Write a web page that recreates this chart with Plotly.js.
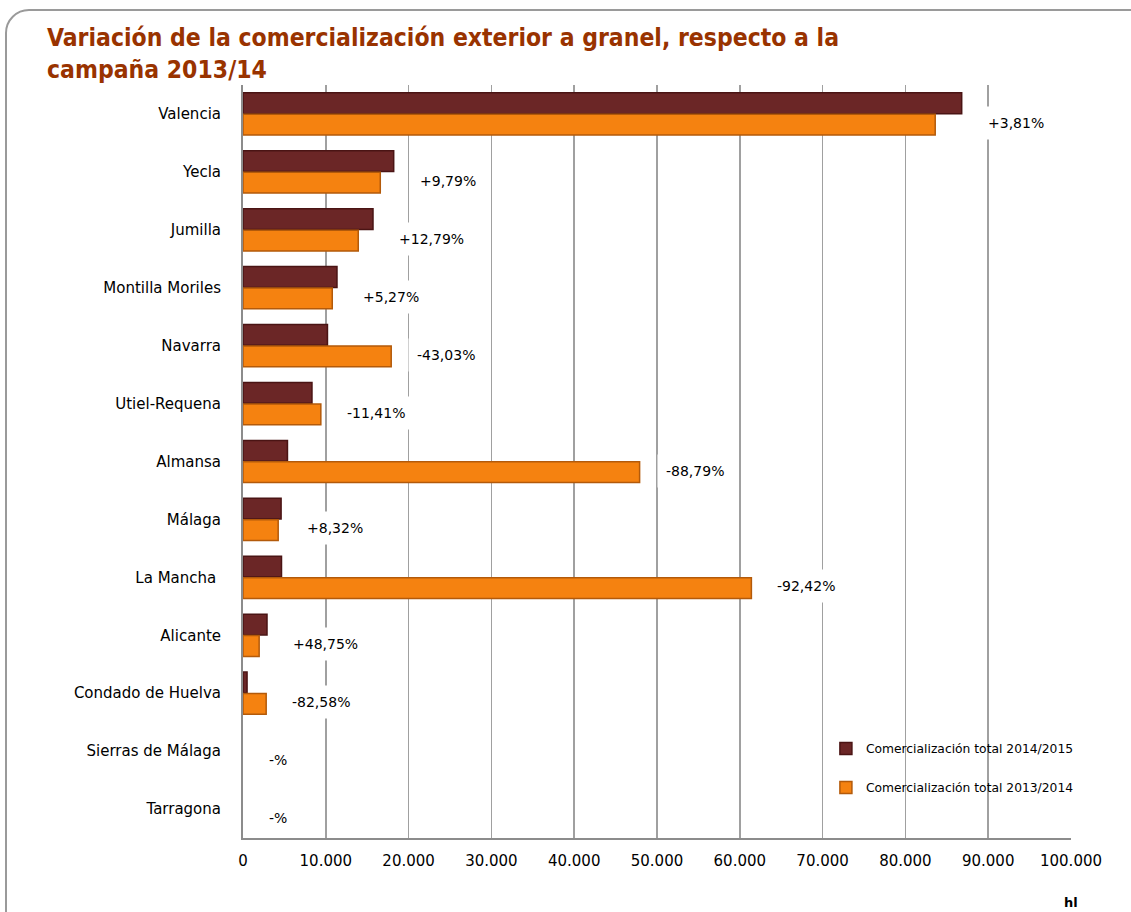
<!DOCTYPE html>
<html>
<head>
<meta charset="utf-8">
<script src="https://cdn.plot.ly/plotly-3.0.1.min.js"></script>
<style>
  html, body { margin: 0; padding: 0; background: #ffffff; }
  #frame { position: absolute; left: 5px; top: 9px; width: 1200px; height: 1000px;
           border: 2px solid #9a9a9a; border-radius: 24px; box-sizing: border-box; }
  #chart { position: absolute; left: 0; top: 0; width: 1131px; height: 912px; }
</style>
</head>
<body>
<div id="frame"></div>
<div id="chart"></div>
<script>
// Categories (top to bottom)
const categories = ["Valencia", "Yecla", "Jumilla", "Montilla Moriles", "Navarra",
  "Utiel-Requena", "Almansa", "Málaga", "La Mancha ", "Alicante",
  "Condado de Huelva", "Sierras de Málaga", "Tarragona"];

// Comercialización total 2014/2015 (hl)
const total2014_15 = [86800, 18200, 15700, 11350, 10200, 8330, 5370, 4600, 4650, 2900, 490, 0, 0];
// Comercialización total 2013/2014 (hl)
const total2013_14 = [83600, 16580, 13920, 10780, 17900, 9400, 47900, 4250, 61400, 1950, 2800, 0, 0];
// Variation labels
const variationLabels = ["+3,81%", "+9,79%", "+12,79%", "+5,27%", "-43,03%", "-11,41%",
  "-88,79%", "+8,32%", "-92,42%", "+48,75%", "-82,58%", "-%", "-%"];

const seriesNames = ["Comercialización total 2014/2015", "Comercialización total 2013/2014"];
const tickValues = [0, 10000, 20000, 30000, 40000, 50000, 60000, 70000, 80000, 90000, 100000];

const FONT = "DejaVu Sans, Verdana, sans-serif";

const traces = [
  {
    type: "bar", orientation: "h", name: seriesNames[0],
    y: categories, x: total2014_15, legendgroup: "a",
    marker: { color: "#6b2626", line: { color: "#4a1414", width: total2014_15.map(v => v > 0 ? 1.5 : 0) } },
    hoverinfo: "x+y"
  },
  {
    type: "bar", orientation: "h", name: seriesNames[1],
    y: categories, x: total2013_14, legendgroup: "b",
    marker: { color: "#f58210", line: { color: "#b35a0a", width: total2013_14.map(v => v > 0 ? 1.5 : 0) } },
    hoverinfo: "x+y"
  }
];

const annotations = categories.map((c, i) => ({
  x: Math.max(total2014_15[i], total2013_14[i]),
  y: c, xref: "x", yref: "y",
  text: variationLabels[i], showarrow: false,
  xanchor: "left", yanchor: "middle", xshift: 17, yshift: -9,
  bgcolor: "#ffffff", borderpad: 8,
  font: { family: FONT, size: 14, color: "#000000" }
}));
annotations.push({
  xref: "paper", yref: "paper", x: 1.0, y: -0.085, xanchor: "center", yanchor: "middle",
  text: "<b>hl</b>", showarrow: false, font: { family: FONT, size: 13, color: "#000" }
});

const layout = {
  width: 1131, height: 912,
  paper_bgcolor: "rgba(0,0,0,0)", plot_bgcolor: "rgba(0,0,0,0)",
  separators: ",.",
  margin: { l: 243, r: 60, t: 85, b: 74 },
  title: {
    text: "Variación de la comercialización exterior a granel, respecto a la<br>campaña 2013/14",
    xref: "container", yref: "container", x: 47 / 1131, y: 1 - 46 / 912,
    xanchor: "left", yanchor: "top",
    font: { family: "DejaVu Sans Condensed, DejaVu Sans, sans-serif", size: 24.5, color: "#993300", weight: "bold" }
  },
  font: { family: FONT, size: 15, color: "#000" },
  barmode: "group", bargap: 0.26, bargroupgap: 0.03,
  xaxis: {
    range: [0, 100000], tickvals: tickValues, tickformat: ",d",
    showgrid: true, gridcolor: "#a0a0a0", gridwidth: 1.5,
    showline: true, linecolor: "#8c8c8c", linewidth: 2, mirror: false,
    ticks: "", ticklabelstandoff: 8, zeroline: false,
    tickfont: { family: FONT, size: 15, color: "#000" }
  },
  yaxis: {
    type: "category", autorange: "reversed",
    showgrid: false, showline: true, linecolor: "#8c8c8c", linewidth: 2,
    ticks: "", ticklabelstandoff: 17,
    tickfont: { family: FONT, size: 15, color: "#000" }
  },
  showlegend: true,
  legend: {
    x: 0.704, y: 0.138, xanchor: "left", yanchor: "top",
    bgcolor: "rgba(255,255,255,0)", traceorder: "grouped", tracegroupgap: 20,
    font: { family: FONT, size: 12.3, color: "#000" }, itemwidth: 30
  },
  annotations: annotations
};

Plotly.newPlot("chart", traces, layout, { displayModeBar: false, staticPlot: true });
</script>
</body>
</html>
